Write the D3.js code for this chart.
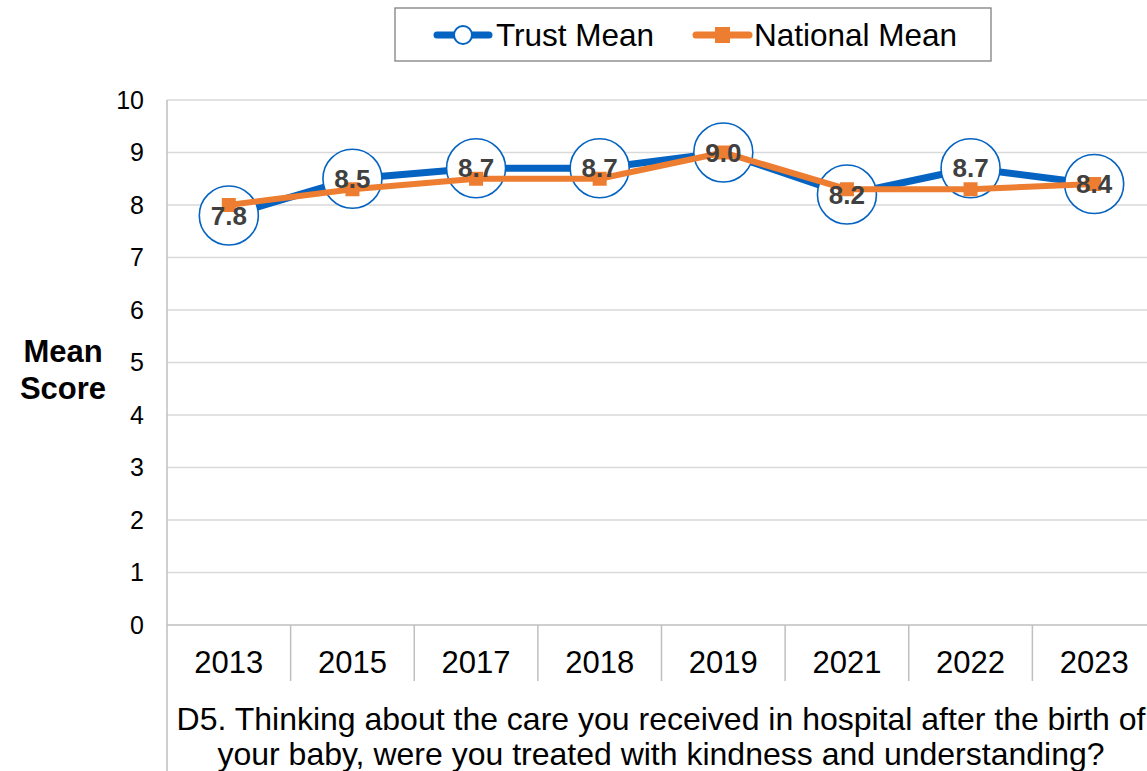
<!DOCTYPE html>
<html>
<head>
<meta charset="utf-8">
<script src="https://cdn.jsdelivr.net/npm/d3@7"></script>
<style>
  html, body { margin: 0; padding: 0; background: #fff; }
  svg { display: block; font-family: "Liberation Sans", Arial, sans-serif; }
</style>
</head>
<body>
<svg id="chart" width="1147" height="771"></svg>
<script>
// Survey years and mean scores
const years = ["2013", "2015", "2017", "2018", "2019", "2021", "2022", "2023"];
const trustMean = [7.8, 8.5, 8.7, 8.7, 9.0, 8.2, 8.7, 8.4];
const nationalMean = [8.0, 8.3, 8.5, 8.5, 9.0, 8.3, 8.3, 8.4];
const yTicks = [0, 1, 2, 3, 4, 5, 6, 7, 8, 9, 10];
const questionLines = [
  "D5. Thinking about the care you received in hospital after the birth of",
  "your baby, were you treated with kindness and understanding?"
];

const svg = d3.select("#chart");
const plot = { left: 167, top: 100, bottom: 625, right: 1156 };

const x = d3.scaleBand().domain(years).range([plot.left, plot.right]).padding(0);
const y = d3.scaleLinear().domain([0, 10]).range([plot.bottom, plot.top]);
const cx = d => x(d) + x.bandwidth() / 2;

const blue = "#0563C1";
const orange = "#ED7D31";
const font = "'Liberation Sans', Arial, sans-serif";

// Horizontal gridlines
svg.append("g")
  .selectAll("line")
  .data(yTicks.filter(t => t > 0))
  .join("line")
  .attr("x1", plot.left).attr("x2", plot.right)
  .attr("y1", d => y(d)).attr("y2", d => y(d))
  .attr("stroke", "#d9d9d9").attr("stroke-width", 1.3);

// Y axis labels
const yAxis = d3.axisLeft(y).tickValues(yTicks).tickSize(0).tickPadding(23);
const gy = svg.append("g").attr("transform", `translate(${plot.left},0)`).call(yAxis);
gy.select(".domain").remove();
gy.selectAll("text")
  .attr("font-size", 25).attr("fill", "#000")
  .attr("font-family", font);

// Left axis line running down through the category area
svg.append("line")
  .attr("x1", plot.left).attr("x2", plot.left)
  .attr("y1", plot.top).attr("y2", 771)
  .attr("stroke", "#bfbfbf").attr("stroke-width", 1.5);

// Baseline
svg.append("line")
  .attr("x1", plot.left).attr("x2", plot.right)
  .attr("y1", plot.bottom).attr("y2", plot.bottom)
  .attr("stroke", "#bfbfbf").attr("stroke-width", 1.5);

// Category separators below the baseline
svg.append("g")
  .selectAll("line")
  .data(years.slice(1))
  .join("line")
  .attr("x1", d => x(d)).attr("x2", d => x(d))
  .attr("y1", plot.bottom).attr("y2", 681)
  .attr("stroke", "#bfbfbf").attr("stroke-width", 1.5);

// X axis labels
const xAxis = d3.axisBottom(x).tickSize(0).tickPadding(0);
const gx = svg.append("g").attr("transform", `translate(0,${plot.bottom})`).call(xAxis);
gx.select(".domain").remove();
gx.selectAll("text")
  .attr("dy", null)
  .attr("y", 48)
  .attr("font-size", 31).attr("fill", "#000")
  .attr("font-family", font);

// Y axis title
svg.append("text")
  .attr("text-anchor", "middle")
  .attr("font-size", 31).attr("font-weight", "bold")
  .selectAll("tspan")
  .data(["Mean", "Score"])
  .join("tspan")
  .attr("x", 63).attr("y", (d, i) => 362 + i * 37)
  .text(d => d);

// Question text under the axis
svg.append("text")
  .attr("text-anchor", "middle")
  .attr("font-size", 32)
  .selectAll("tspan")
  .data(questionLines)
  .join("tspan")
  .attr("x", 661).attr("y", (d, i) => 730 + i * 35)
  .text(d => d);

// Trust line
const trustData = years.map((yr, i) => ({ yr, v: trustMean[i] }));
const natData = years.map((yr, i) => ({ yr, v: nationalMean[i] }));
const line = d3.line().x(d => cx(d.yr)).y(d => y(d.v));

svg.append("path")
  .datum(trustData)
  .attr("d", line)
  .attr("fill", "none")
  .attr("stroke", blue).attr("stroke-width", 7)
  .attr("stroke-linejoin", "round");

svg.append("g")
  .selectAll("circle")
  .data(trustData)
  .join("circle")
  .attr("cx", d => cx(d.yr)).attr("cy", d => y(d.v))
  .attr("r", 29.5)
  .attr("fill", "#fff")
  .attr("stroke", blue).attr("stroke-width", 1.6);

// National line
svg.append("path")
  .datum(natData)
  .attr("d", line)
  .attr("fill", "none")
  .attr("stroke", orange).attr("stroke-width", 6)
  .attr("stroke-linejoin", "round");

svg.append("g")
  .selectAll("rect")
  .data(natData)
  .join("rect")
  .attr("x", d => cx(d.yr) - 7).attr("y", d => y(d.v) - 7)
  .attr("width", 14).attr("height", 14)
  .attr("fill", orange);

// Value labels for the trust series
svg.append("g")
  .selectAll("text")
  .data(trustData)
  .join("text")
  .attr("x", d => cx(d.yr)).attr("y", d => y(d.v) + 9)
  .attr("text-anchor", "middle")
  .attr("font-size", 26).attr("font-weight", "bold")
  .attr("fill", "#404040")
  .text(d => d.v.toFixed(1));

// Legend
const legend = svg.append("g");
legend.append("rect")
  .attr("x", 395).attr("y", 8).attr("width", 596).attr("height", 53)
  .attr("fill", "#fff").attr("stroke", "#808080").attr("stroke-width", 1.3);

legend.append("line")
  .attr("x1", 437).attr("x2", 489).attr("y1", 35).attr("y2", 35)
  .attr("stroke", blue).attr("stroke-width", 7).attr("stroke-linecap", "round");
legend.append("circle")
  .attr("cx", 463).attr("cy", 35).attr("r", 9)
  .attr("fill", "#fff").attr("stroke", blue).attr("stroke-width", 2);
legend.append("text")
  .attr("x", 496).attr("y", 46)
  .attr("font-size", 31.5).text("Trust Mean");

legend.append("line")
  .attr("x1", 696).attr("x2", 749).attr("y1", 35).attr("y2", 35)
  .attr("stroke", orange).attr("stroke-width", 7).attr("stroke-linecap", "round");
legend.append("rect")
  .attr("x", 715).attr("y", 27).attr("width", 15).attr("height", 16)
  .attr("fill", orange);
legend.append("text")
  .attr("x", 754).attr("y", 46)
  .attr("font-size", 31.5).text("National Mean");
</script>
</body>
</html>
